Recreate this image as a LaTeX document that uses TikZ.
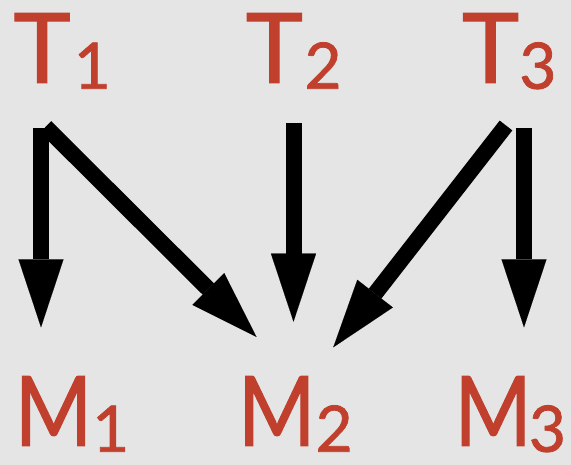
\documentclass[tikz,border=0pt]{standalone}
\usepackage{graphicx}
\usepackage{fontspec}
\newfontfamily\labelfont{Lato}[FakeBold=1.2]
\usetikzlibrary{arrows.meta}

\definecolor{paper}{HTML}{E5E5E5}
\definecolor{labelred}{RGB}{192,64,45}

% main letter (optionally narrowed) and its lowered index
\newcommand{\mainglyph}[2][1]{{\fontsize{97}{97}\selectfont\scalebox{#1}[1]{#2}}}
\newcommand{\lowidx}[2][0pt]{\kern#1{\fontsize{64}{64}\selectfont\raisebox{-6pt}{#2}}}

\begin{document}
\begin{tikzpicture}[x=1pt, y=-1pt,
  varlabel/.style={inner sep=0pt, outer sep=0pt, anchor=base west,
    text=labelred, font=\labelfont},
  link/.style={line width=16pt, line cap=butt,
    -{Triangle[length=68pt, width=45pt, line width=0.1pt]}}]

  % page and background
  \fill[paper] (0,0) rectangle (571,465);
  \useasboundingbox (0,0) rectangle (571,465);

  % top row
  \node[varlabel] (T1) at (13.5,82.7)  {\mainglyph{T}\lowidx[3pt]{1}};
  \node[varlabel] (T2) at (245.7,82.7) {\mainglyph{T}\lowidx[1.5pt]{2}};
  \node[varlabel] (T3) at (462,82.7)   {\mainglyph{T}\lowidx[0pt]{3}};

  % bottom row
  \node[varlabel] (M1) at (14.8,445.7)  {\mainglyph[0.86]{M}\lowidx{1}};
  \node[varlabel] (M2) at (238.1,445.7) {\mainglyph[0.86]{M}\lowidx{2}};
  \node[varlabel] (M3) at (454.4,445.7) {\mainglyph[0.86]{M}\lowidx[-3pt]{3}};

  % connector ends
  \coordinate (T1-down)  at (41,128.3);
  \coordinate (T1-diag)  at (45.6,126.9);
  \coordinate (T2-down)  at (293.5,123.3);
  \coordinate (T3-diag)  at (506,125.5);
  \coordinate (T3-down)  at (524,128.3);
  \coordinate (M1-in)    at (41,327.3);
  \coordinate (M2-left)  at (256.5,337);
  \coordinate (M2-top)   at (293.5,321.7);
  \coordinate (M2-right) at (333.3,347.3);
  \coordinate (M3-in)    at (524,327.3);

  % connectors
  \draw[link] (T1-down) -- (M1-in);
  \draw[link] (T1-diag) -- (M2-left);
  \draw[link] (T2-down) -- (M2-top);
  \draw[link] (T3-diag) -- (M2-right);
  \draw[link] (T3-down) -- (M3-in);
\end{tikzpicture}
\end{document}
